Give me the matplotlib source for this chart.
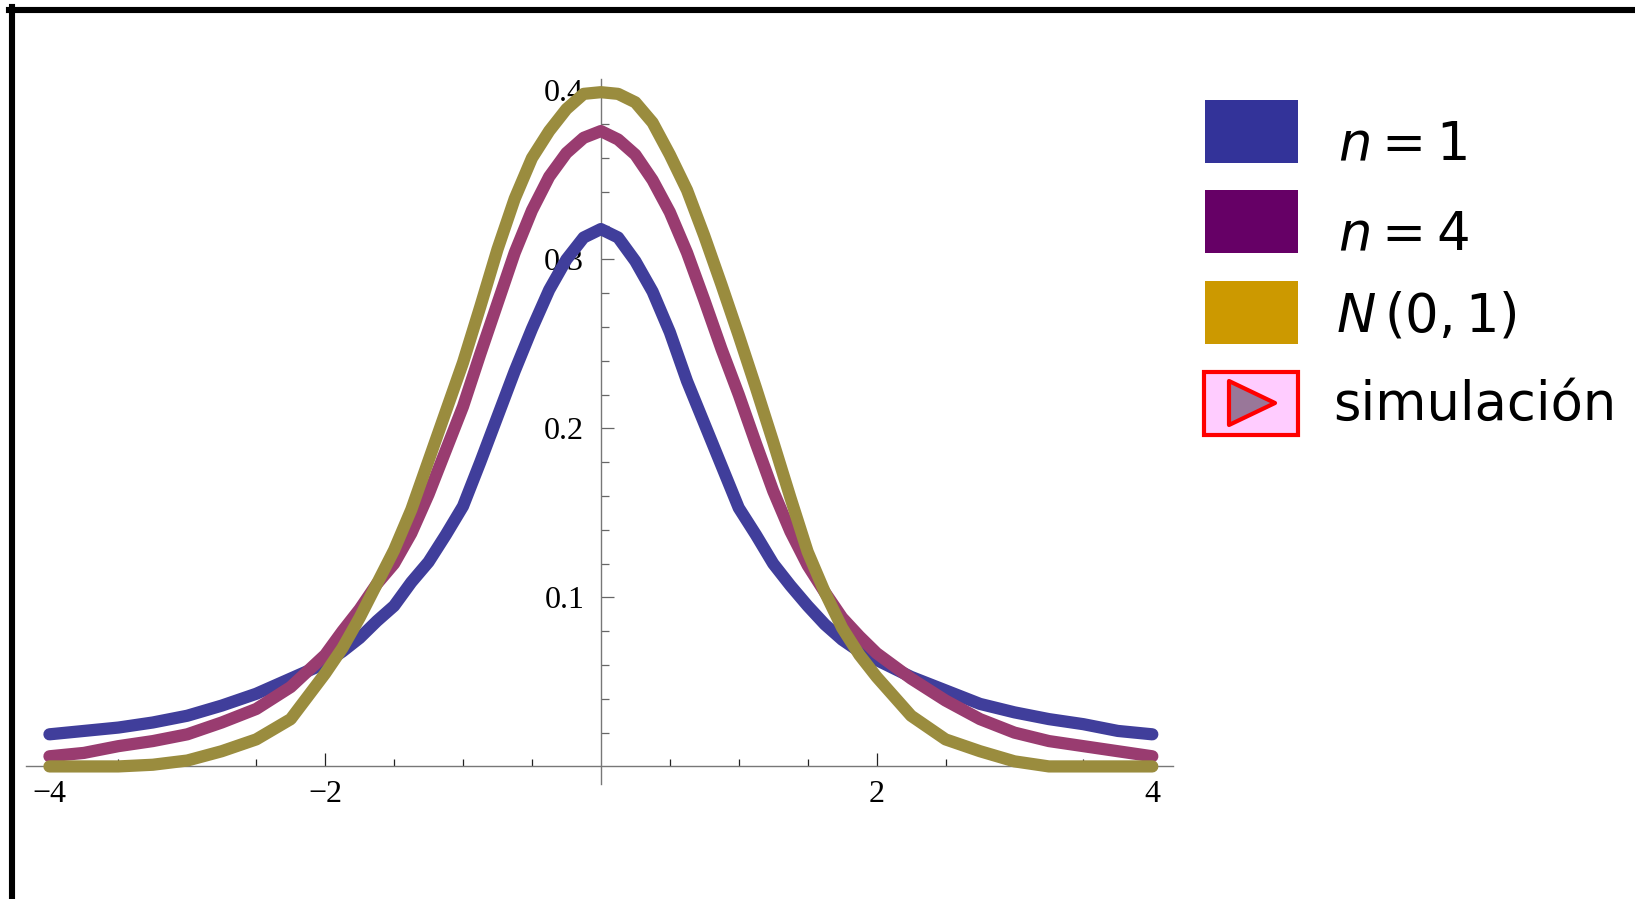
import matplotlib
matplotlib.use("Agg")
import matplotlib.pyplot as plt
from matplotlib.lines import Line2D
from matplotlib.patches import Rectangle, Polygon
from matplotlib.ticker import FixedLocator, FixedFormatter, FormatStrFormatter

# simulated densities
x_vals = [-4, -3.75, -3.5, -3.25, -3, -2.75, -2.5, -2.25,
          -2, -1.875, -1.75, -1.625, -1.5, -1.375, -1.25, -1.125,
          -1, -0.875, -0.75, -0.625, -0.5, -0.375, -0.25, -0.125,
          0, 0.125, 0.25, 0.375, 0.5, 0.625, 0.75, 0.875,
          1, 1.125, 1.25, 1.375, 1.5, 1.625, 1.75, 1.875,
          2, 2.25, 2.5, 2.75, 3, 3.25, 3.5, 3.75, 4]
dens_n1 = [0.019, 0.021, 0.023, 0.026, 0.030, 0.036, 0.043, 0.052,
           0.061, 0.068, 0.076, 0.086, 0.095, 0.109, 0.121, 0.137,
           0.154, 0.180, 0.207, 0.234, 0.259, 0.282, 0.300, 0.313,
           0.318, 0.313, 0.299, 0.281, 0.257, 0.228, 0.203, 0.178,
           0.153, 0.137, 0.120, 0.107, 0.095, 0.084, 0.075, 0.068,
           0.063, 0.053, 0.045, 0.037, 0.032, 0.028, 0.025, 0.021, 0.019]
dens_n4 = [0.006, 0.008, 0.012, 0.015, 0.019, 0.026, 0.034, 0.047,
           0.066, 0.080, 0.093, 0.108, 0.120, 0.138, 0.161, 0.187,
           0.213, 0.244, 0.274, 0.304, 0.329, 0.349, 0.363, 0.372,
           0.376, 0.371, 0.362, 0.347, 0.328, 0.304, 0.276, 0.247,
           0.220, 0.191, 0.163, 0.139, 0.119, 0.103, 0.088, 0.077,
           0.067, 0.052, 0.039, 0.028, 0.020, 0.015, 0.012, 0.009, 0.006]
dens_norm = [0.000, 0.000, 0.000, 0.001, 0.0035, 0.009, 0.016, 0.028,
             0.055, 0.070, 0.088, 0.108, 0.128, 0.152, 0.181, 0.210,
             0.239, 0.272, 0.306, 0.336, 0.360, 0.376, 0.389, 0.398,
             0.399, 0.398, 0.393, 0.381, 0.362, 0.341, 0.314, 0.285,
             0.255, 0.224, 0.192, 0.159, 0.127, 0.103, 0.082, 0.066,
             0.053, 0.030, 0.016, 0.009, 0.003, 0.000, 0.000, 0.000, 0.000]

series = [
    (dens_n1, "#403E9B"),
    (dens_n4, "#993C70"),
    (dens_norm, "#9A8C3E"),
]

x_ticks = [-4, -2, 2, 4]
x_tick_labels = ["\u22124", "\u22122", "2", "4"]
y_ticks = [0.1, 0.2, 0.3, 0.4]

legend_labels = [r"$n = 1$", r"$n = 4$", r"$N\,(0,1)$", "simulación"]
legend_colors = ["#333399", "#660066", "#CC9900"]

W, H = 1635, 899
plt.rcParams["font.family"] = "Liberation Serif"
plt.rcParams["mathtext.fontset"] = "dejavusans"

fig = plt.figure(figsize=(W / 100, H / 100), dpi=100)


def fx(px):
    return px / W


def fy(py):
    return 1 - py / H


ax = fig.add_axes([fx(26), fy(784), (1173 - 26) / W, (784 - 79) / H])
ax.set_xlim(-4.17, 4.15)
ax.set_ylim(-0.0104, 0.4068)

for dens, col in series:
    ax.plot(x_vals, dens, color=col, lw=8.8, solid_capstyle="round",
            solid_joinstyle="round", clip_on=False, zorder=3)

# Mathematica-style axes crossing at the origin
for s in ["top", "right"]:
    ax.spines[s].set_visible(False)
ax.spines["left"].set_position(("data", 0))
ax.spines["bottom"].set_position(("data", 0))
for s in ["left", "bottom"]:
    ax.spines[s].set_color("#777777")
    ax.spines[s].set_linewidth(1.0)

ax.xaxis.set_major_locator(FixedLocator(x_ticks))
ax.xaxis.set_major_formatter(FixedFormatter(x_tick_labels))
ax.xaxis.set_minor_locator(FixedLocator([-3.5, -3, -2.5, -1.5, -1, -0.5, 0.5, 1, 1.5, 2.5, 3, 3.5]))
ax.yaxis.set_major_locator(FixedLocator(y_ticks))
ax.yaxis.set_major_formatter(FormatStrFormatter("%.1f"))
ax.yaxis.set_minor_locator(FixedLocator([k * 0.02 for k in range(1, 20) if k % 5 != 0]))

ax.tick_params(axis="x", which="major", direction="in", length=9.4, width=0.9,
               color="#222222", pad=10, labelsize=23)
ax.tick_params(axis="x", which="minor", direction="in", length=5, width=0.9, color="#222222")
ax.tick_params(axis="y", which="major", direction="in", length=9.4, width=0.9,
               color="#666666", pad=12, labelsize=23)
ax.tick_params(axis="y", which="minor", direction="in", length=5.5, width=0.9, color="#666666")

# thick outer frame (only top and left edges are visible)
fig.add_artist(Line2D([fx(9), 1.01], [fy(10), fy(10)], color="black", lw=4.4,
                      transform=fig.transFigure))
fig.add_artist(Line2D([fx(12), fx(12)], [fy(7), -0.01], color="black", lw=4.4,
                      transform=fig.transFigure))

# legend
sw_tops = [100, 190, 281]
for top, col in zip(sw_tops, legend_colors):
    fig.add_artist(Rectangle((fx(1205), fy(top + 63)), 93 / W, 63 / H, transform=fig.transFigure,
                             facecolor=col, edgecolor="none"))
fig.add_artist(Rectangle((fx(1204), fy(435)), 94 / W, 63 / H, transform=fig.transFigure,
                         facecolor="#FFCCFF", edgecolor="#FF0000", lw=3))
fig.add_artist(Polygon([(fx(1229), fy(381)), (fx(1229), fy(425)), (fx(1275), fy(403))],
                       closed=True, transform=fig.transFigure, facecolor="#997799",
                       edgecolor="#FF0000", lw=3, joinstyle="round"))

baselines = [160, 250, 332, 420]
text_x = [1338, 1338, 1336, 1333]
for lab, bx, by in zip(legend_labels, text_x, baselines):
    fig.text(fx(bx), fy(by), lab, fontsize=38, family="DejaVu Sans", va="baseline", ha="left")

fig.savefig("out.png", dpi=100)
